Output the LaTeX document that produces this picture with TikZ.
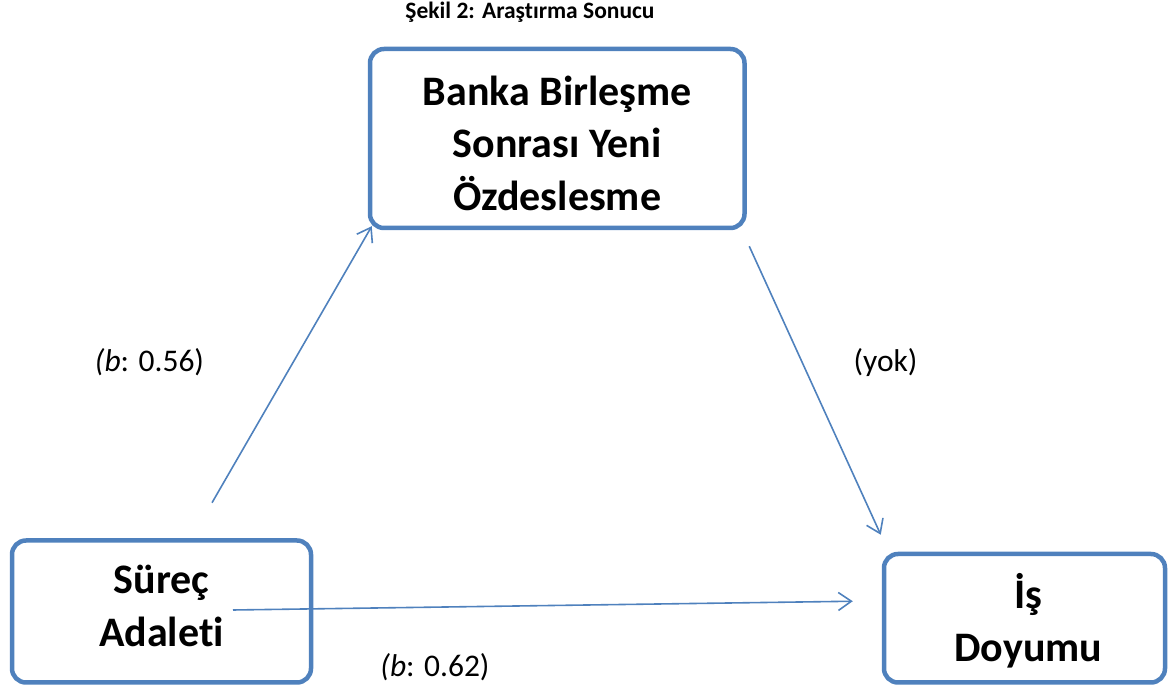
\documentclass[tikz,border=0pt]{standalone}
\usepackage{fontspec}
\setmainfont{Carlito}[Ligatures=NoCommon]
\usetikzlibrary{arrows.meta}
\definecolor{boxblue}{HTML}{4F81BD}
\newcommand{\boxlines}[3]{\raisebox{#1}[0pt][0pt]{\fontsize{42}{#2}\selectfont\bfseries
  \renewcommand{\arraystretch}{1}\begin{tabular}[t]{@{}c@{}}#3\end{tabular}}}
\tikzset{
  boxnode/.style={draw=boxblue, line width=4.5pt, rounded corners=14pt, inner sep=0pt},
  conn/.style={draw=boxblue, line width=1.6pt, -{Straight Barb[length=13pt,width=18pt,line width=1.6pt]}},
  lbl/.style={anchor=base, inner sep=0pt, font=\fontsize{31.5}{36}\selectfont},
  ttl/.style={anchor=base, inner sep=0pt, font=\fontsize{23.5}{28}\selectfont\bfseries}
}
\begin{document}
\begin{tikzpicture}[x=1pt,y=1pt]
\useasboundingbox (0,0) rectangle (1168,690);
\node[ttl] (title) at (530,671.7) {Şekil 2: Araştırma Sonucu};
\node[boxnode, minimum width=374.5pt, minimum height=179pt] (bb) at (557.25,551.5)
  {\boxlines{32.8pt}{52.2}{Banka Birleşme\\Sonrası Yeni\\Özdeslesme}};
\node[boxnode, minimum width=299pt, minimum height=142pt] (sa) at (161.5,78.5)
  {\boxlines{17.5pt}{52.7}{Süreç\\Adaleti}};
\node[boxnode, minimum width=281pt, minimum height=128.5pt] (id) at (1024.5,71.75)
  {\kern8pt\boxlines{10pt}{53.4}{İş\\Doyumu}};
\draw[conn] ([shift={(50.5,35.5)}]sa.north) -- ([shift={(4,4)}]bb.south west);
\draw[conn] ([shift={(2.5,-16)}]bb.south east) -- ([shift={(-1,17)}]id.north west);
\draw[conn] ([shift={(71.5,1.5)}]sa.center) -- ([shift={(-29,17)}]id.west);
\node[lbl] (l1) at (149.5,318) {\textit{(b}: 0.56)};
\node[lbl] (l2) at (885.5,318) {(yok)};
\node[lbl] (l3) at (435,13) {\textit{(b}: 0.62)};
\end{tikzpicture}
\end{document}
